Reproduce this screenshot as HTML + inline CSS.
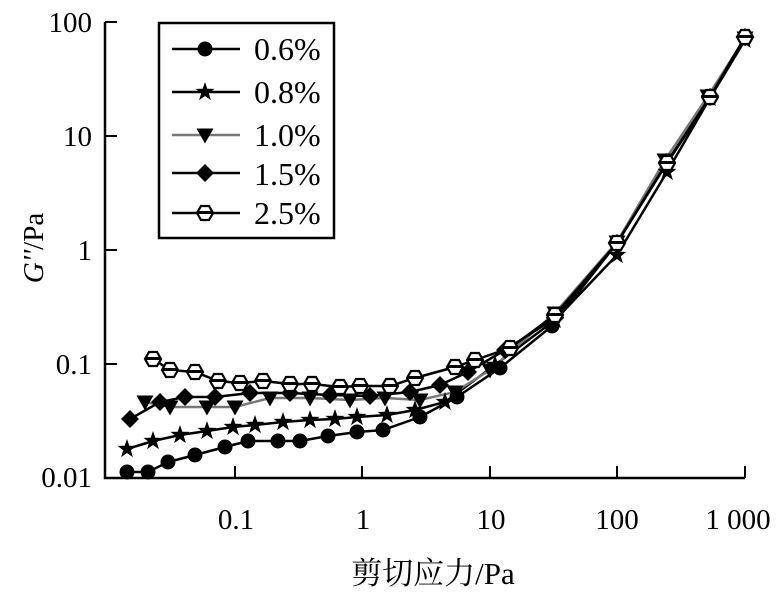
<!DOCTYPE html>
<html><head><meta charset="utf-8"><style>
body{margin:0;background:#fff}
text{font-family:"Liberation Serif","Noto Serif CJK SC",serif;fill:#000}
</style></head><body>
<svg width="779" height="593" xmlns="http://www.w3.org/2000/svg">
<defs>
<circle id="c" r="7.5" fill="#000"/>
<polygon id="s" points="0,-10 2.3,-3.2 9.5,-3.1 3.8,1.2 5.9,8.1 0,4 -5.9,8.1 -3.8,1.2 -9.5,-3.1 -2.3,-3.2" fill="#000"/>
<polygon id="t" points="-8.5,-6.5 8.5,-6.5 0,8.5" fill="#000"/>
<polygon id="d" points="0,-9 9,0 0,9 -9,0" fill="#000"/>
<g id="h"><polygon points="-4,-7 4,-7 8,0 4,7 -4,7 -8,0" fill="#fff" stroke="#000" stroke-width="2.2"/><rect x="-7" y="-2" width="14" height="3" fill="#000"/></g>
</defs>
<g fill="none" stroke="#000" stroke-width="2.5">
<polyline points="105,22 105,478 745,478"/>
</g>
<g stroke="#000" stroke-width="2">
<line x1="105" y1="22" x2="117" y2="22"/><line x1="105" y1="136" x2="117" y2="136"/><line x1="105" y1="250" x2="117" y2="250"/><line x1="105" y1="364" x2="117" y2="364"/>
<line x1="235" y1="478" x2="235" y2="466"/><line x1="362" y1="478" x2="362" y2="466"/><line x1="490" y1="478" x2="490" y2="466"/><line x1="617" y1="478" x2="617" y2="466"/><line x1="745" y1="478" x2="745" y2="466"/>
</g>
<g font-size="29" text-anchor="end">
<text x="92" y="32">100</text><text x="92" y="146">10</text><text x="92" y="260">1</text><text x="92" y="374">0.1</text><text x="92" y="487">0.01</text>
</g>
<g font-size="29" text-anchor="middle">
<text x="236" y="529">0.1</text><text x="363" y="529">1</text><text x="491" y="529">10</text><text x="617" y="529">100</text><text x="738" y="529">1 000</text>
<text x="433" y="584" font-size="31">剪切应力/Pa</text>
</g>
<text transform="translate(43,248) rotate(-90)" font-size="29" text-anchor="middle"><tspan font-style="italic">G''</tspan>/Pa</text>

<g fill="none" stroke-width="2.5">
<polyline stroke="#000" points="127,472 148,472 168,462 195,455 225,447 248,441 278,441 300,441 328,436 357,432 383,430 420,417 457,397 500,368 552,326 617,243 667,163 710,98 745,38"/>
<polyline stroke="#000" points="127,449 153,441 180,435 207,431 233,427 255,425 283,422 310,420 335,419 357,417 387,415 415,410 445,402 495,365 555,320 617,255 667,172 710,98 745,40"/>
<polyline stroke="#777" points="145,402 170,407 207,407 235,407 270,398 310,398 350,400 385,398 420,400 455,392 490,370 555,313 617,242 665,160 708,96 745,38"/>
<polyline stroke="#000" points="130,419 160,402 185,397 215,397 250,393 290,393 330,395 370,396 410,392 440,385 468,372 505,350 555,318 617,243 667,162 710,97 745,37"/>
<polyline stroke="#000" points="153,359 170,370 195,372 218,381 240,383 263,381 290,384 312,384 340,387 360,386 390,386 415,378 455,367 475,360 510,348 555,315 617,243 667,163 710,97 745,37"/>
</g>
<g>
<use href="#c" x="127" y="472"/><use href="#c" x="148" y="472"/><use href="#c" x="168" y="462"/><use href="#c" x="195" y="455"/><use href="#c" x="225" y="447"/><use href="#c" x="248" y="441"/><use href="#c" x="278" y="441"/><use href="#c" x="300" y="441"/><use href="#c" x="328" y="436"/><use href="#c" x="357" y="432"/><use href="#c" x="383" y="430"/><use href="#c" x="420" y="417"/><use href="#c" x="457" y="397"/><use href="#c" x="500" y="368"/><use href="#c" x="552" y="326"/><use href="#c" x="617" y="243"/><use href="#c" x="667" y="163"/><use href="#c" x="710" y="98"/><use href="#c" x="745" y="38"/>
<use href="#s" x="127" y="449"/><use href="#s" x="153" y="441"/><use href="#s" x="180" y="435"/><use href="#s" x="207" y="431"/><use href="#s" x="233" y="427"/><use href="#s" x="255" y="425"/><use href="#s" x="283" y="422"/><use href="#s" x="310" y="420"/><use href="#s" x="335" y="419"/><use href="#s" x="357" y="417"/><use href="#s" x="387" y="415"/><use href="#s" x="415" y="410"/><use href="#s" x="445" y="402"/><use href="#s" x="495" y="365"/><use href="#s" x="555" y="320"/><use href="#s" x="617" y="255"/><use href="#s" x="667" y="172"/><use href="#s" x="710" y="98"/><use href="#s" x="745" y="40"/>
<use href="#t" x="145" y="402"/><use href="#t" x="170" y="407"/><use href="#t" x="207" y="407"/><use href="#t" x="235" y="407"/><use href="#t" x="270" y="398"/><use href="#t" x="310" y="398"/><use href="#t" x="350" y="400"/><use href="#t" x="385" y="398"/><use href="#t" x="420" y="400"/><use href="#t" x="455" y="392"/><use href="#t" x="490" y="370"/><use href="#t" x="555" y="313"/><use href="#t" x="617" y="242"/><use href="#t" x="665" y="160"/><use href="#t" x="708" y="96"/><use href="#t" x="745" y="38"/>
<use href="#d" x="130" y="419"/><use href="#d" x="160" y="402"/><use href="#d" x="185" y="397"/><use href="#d" x="215" y="397"/><use href="#d" x="250" y="393"/><use href="#d" x="290" y="393"/><use href="#d" x="330" y="395"/><use href="#d" x="370" y="396"/><use href="#d" x="410" y="392"/><use href="#d" x="440" y="385"/><use href="#d" x="468" y="372"/><use href="#d" x="505" y="350"/><use href="#d" x="555" y="318"/><use href="#d" x="617" y="243"/><use href="#d" x="667" y="162"/><use href="#d" x="710" y="97"/><use href="#d" x="745" y="37"/>
<use href="#h" x="153" y="359"/><use href="#h" x="170" y="370"/><use href="#h" x="195" y="372"/><use href="#h" x="218" y="381"/><use href="#h" x="240" y="383"/><use href="#h" x="263" y="381"/><use href="#h" x="290" y="384"/><use href="#h" x="312" y="384"/><use href="#h" x="340" y="387"/><use href="#h" x="360" y="386"/><use href="#h" x="390" y="386"/><use href="#h" x="415" y="378"/><use href="#h" x="455" y="367"/><use href="#h" x="475" y="360"/><use href="#h" x="510" y="348"/><use href="#h" x="555" y="315"/><use href="#h" x="617" y="243"/><use href="#h" x="667" y="163"/><use href="#h" x="710" y="97"/><use href="#h" x="745" y="37"/>
</g>
<rect x="159" y="23" width="175" height="215" fill="#fff" stroke="#000" stroke-width="2.5"/>
<g stroke-width="2.5">
<line x1="172" y1="49" x2="240" y2="49" stroke="#000"/><use href="#c" x="205" y="49"/>
<line x1="172" y1="92" x2="240" y2="92" stroke="#000"/><use href="#s" x="205" y="92"/>
<line x1="172" y1="135" x2="240" y2="135" stroke="#777"/><use href="#t" x="205" y="135"/>
<line x1="172" y1="173" x2="240" y2="173" stroke="#000"/><use href="#d" x="205" y="173"/>
<line x1="172" y1="213" x2="240" y2="213" stroke="#000"/><use href="#h" x="205" y="213"/>
</g>
<g font-size="32">
<text x="254" y="60">0.6%</text><text x="254" y="103">0.8%</text><text x="254" y="146">1.0%</text><text x="254" y="185">1.5%</text><text x="254" y="224">2.5%</text>
</g>
</svg>
</body></html>
